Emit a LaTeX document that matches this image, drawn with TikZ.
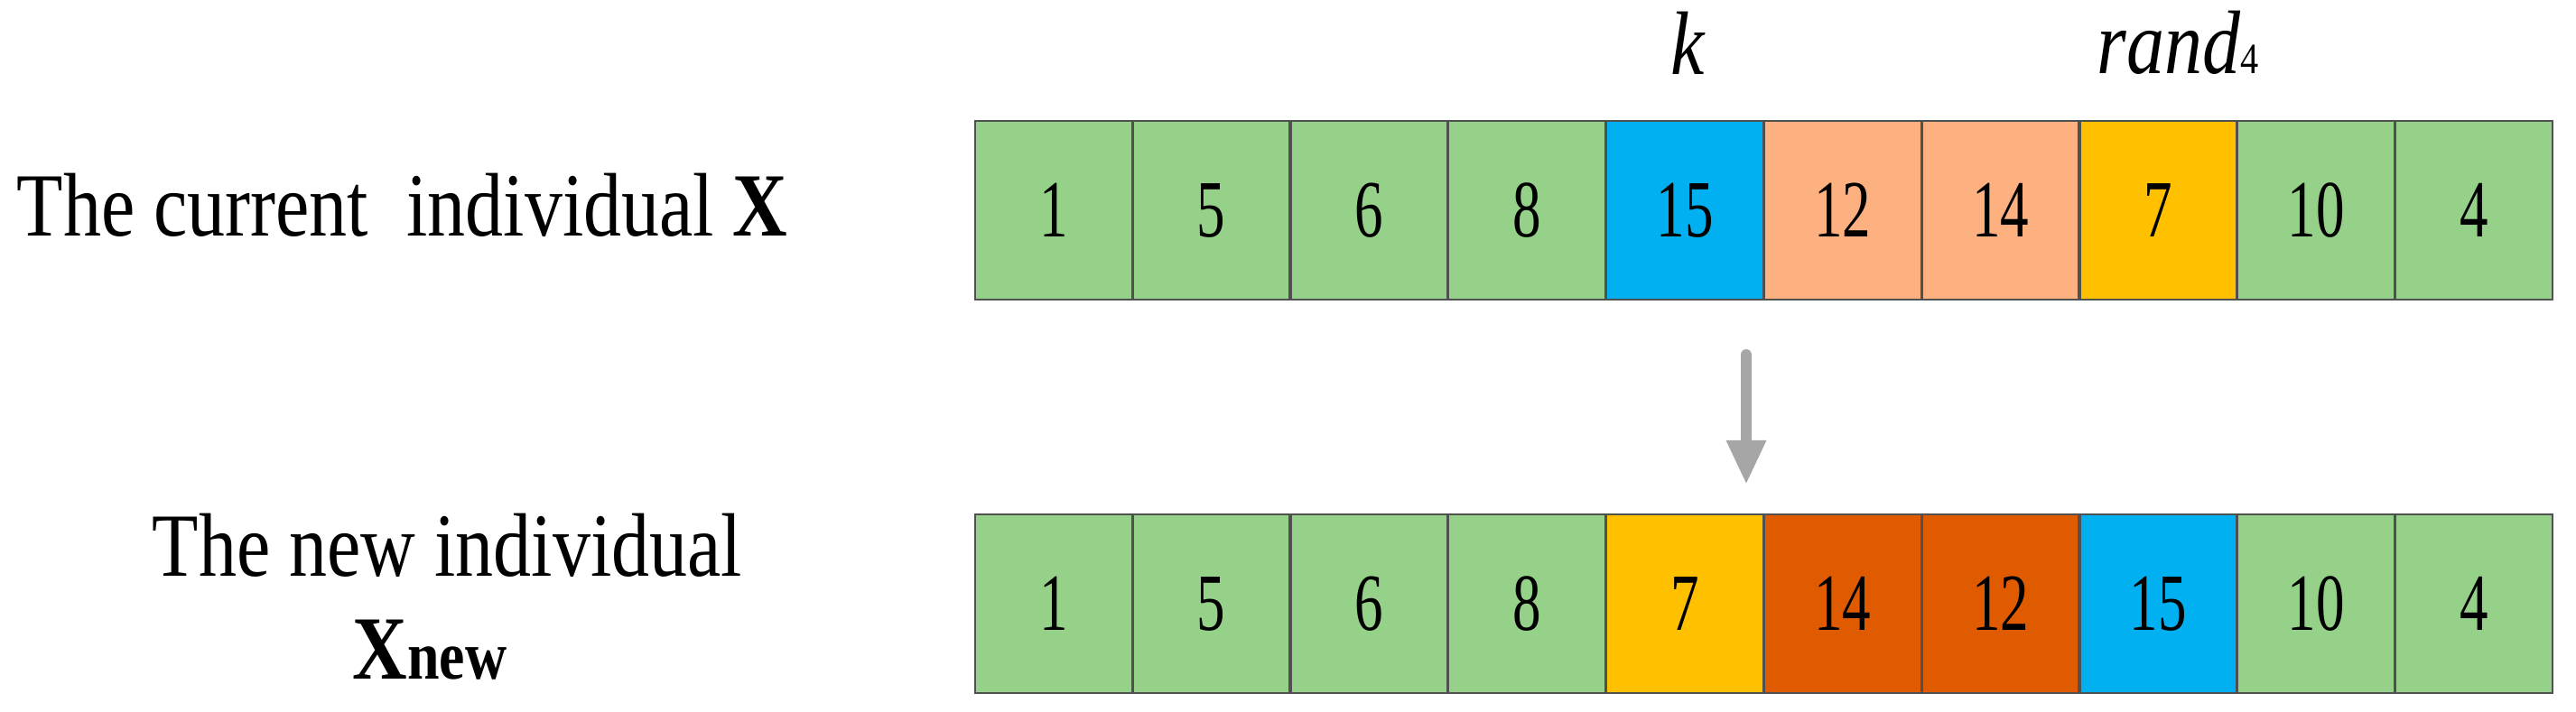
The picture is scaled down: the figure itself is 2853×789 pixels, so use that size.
\documentclass[tikz,border=0pt]{standalone}
\usepackage{fontspec}
\setmainfont{Liberation Serif}
\usetikzlibrary{arrows.meta}
\definecolor{cgreen}{RGB}{150,209,138}
\definecolor{cblue}{RGB}{0,176,240}
\definecolor{csalmon}{RGB}{253,176,128}
\definecolor{cyellow}{RGB}{255,192,0}
\definecolor{cdark}{RGB}{224,90,0}
\definecolor{cborder}{RGB}{80,80,80}
\definecolor{carrow}{RGB}{166,166,166}
\newcommand{\sqnum}[1]{\scalebox{0.70}[1]{#1}}
\newcommand{\narrow}[1]{\scalebox{0.84}[1]{#1}}
\begin{document}
\begin{tikzpicture}[x=0.25pt,y=-0.25pt,
  cell/.style={draw=cborder, line width=0.5pt, minimum width=43.4pt, minimum height=49.5pt,
    inner sep=0pt, anchor=north west, font=\fontsize{22.5pt}{23pt}\selectfont},
  lbl/.style={inner sep=0pt, anchor=base west, font=\fontsize{25pt}{26pt}\selectfont},
  arrowst/.style={draw=carrow, line width=3pt, line cap=round, -{Triangle[width=10.25pt,length=12.25pt]}}]
\useasboundingbox (0,0) rectangle (2853,789);
% top row
\foreach \v/\c [count=\i from 0] in {1/cgreen,5/cgreen,6/cgreen,8/cgreen,15/cblue,12/csalmon,14/csalmon,7/cyellow,10/cgreen,4/cgreen}
  \node[cell, fill=\c] (t\i) at ({1079+\i*174.8},133) {\sqnum{\v}};
% bottom row
\foreach \v/\c [count=\i from 0] in {1/cgreen,5/cgreen,6/cgreen,8/cgreen,7/cyellow,14/cdark,12/cdark,15/cblue,10/cgreen,4/cgreen}
  \node[cell, fill=\c] (b\i) at ({1079+\i*174.8},569) {\sqnum{\v}};
% labels
\node[lbl] (cur) at (18,262) {\narrow{The current~ individual \textbf{X}}};
\node[lbl] (newl) at (168,639) {\narrow{The new individual}};
\node[lbl] (xnew) at (390,753) {\narrow{\bfseries X{\fontsize{19pt}{19pt}\selectfont new}}};
\node[lbl, anchor=base] (klbl) at (1869,83) {\narrow{\itshape k}};
\node[lbl] (rlbl) at (2322,82) {\narrow{\itshape rand\upshape\fontsize{12pt}{12pt}\selectfont 4}};
% arrow
\coordinate (astart) at (1934,393);
\coordinate (aend) at (1934,537);
\draw[arrowst] (astart) -- (aend);
\end{tikzpicture}
\end{document}
